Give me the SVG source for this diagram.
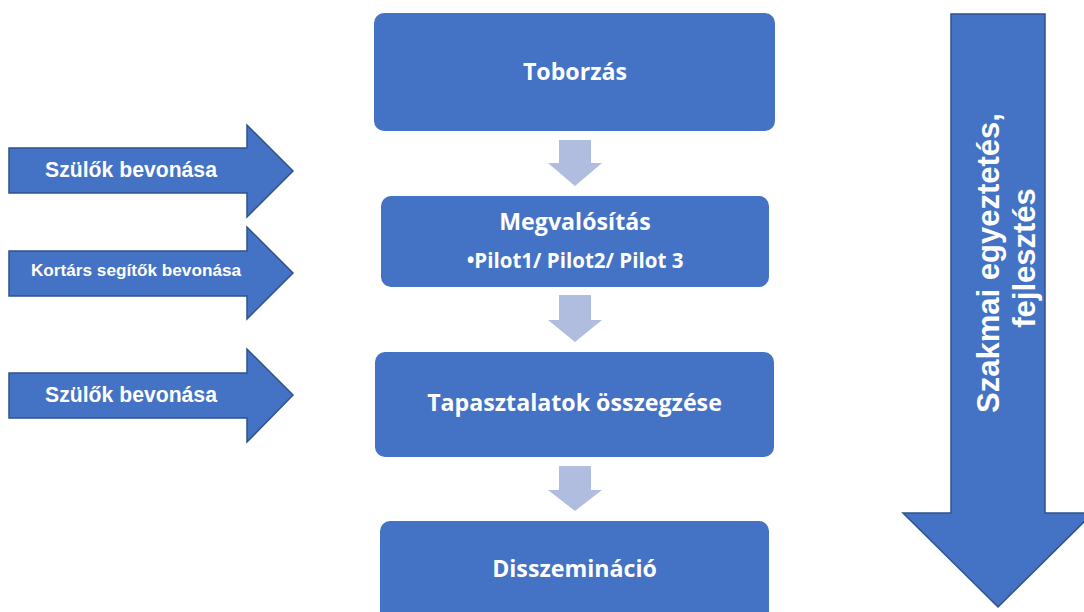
<svg xmlns="http://www.w3.org/2000/svg" width="1084" height="612" viewBox="0 0 1084 612">
<style>
.bigarrow{fill:#4472C4;stroke:#2F528F;stroke-width:1.5}
.box{fill:#4472C4}
.flow{fill:#B0BDDF}
.at{font-family:"Liberation Sans",Arial,sans-serif;font-weight:bold;fill:#fff;text-anchor:middle}
.bt{font-family:"Open Sans","Noto Sans",sans-serif;font-weight:bold;fill:#fff;text-anchor:middle}
</style>
<rect width="1084" height="612" fill="#fff"/>
<g id="connectors">
<polygon class="flow" points="559,140 591,140 591,163 602,163 575,186 548,163 559,163"/>
<polygon class="flow" points="559,295 591,295 591,320 602,320 575,342 548,320 559,320"/>
<polygon class="flow" points="559,466 591,466 591,490 602,490 575,511 548,490 559,490"/>
</g>
<g id="szulok1">
<polygon class="bigarrow" points="9,148 247,148 247,125 293,171 247,217 247,193 9,193"/>
<text class="at" x="131" y="177" font-size="21.2">Szülők bevonása</text>
</g>
<g id="kortars">
<polygon class="bigarrow" points="9,251 247,251 247,227 293,273 247,319 247,296 9,296"/>
<text class="at" x="136" y="276" font-size="17.2">Kortárs segítők bevonása</text>
</g>
<g id="szulok2">
<polygon class="bigarrow" points="9,373 247,373 247,349 293,395 247,442 247,418 9,418"/>
<text class="at" x="131" y="402" font-size="21.2">Szülők bevonása</text>
</g>
<g id="toborzas">
<rect class="box" x="374" y="13" width="401" height="118" rx="10"/>
<text class="bt" x="575" y="80" font-size="23.2">Toborzás</text>
</g>
<g id="megvalositas">
<rect class="box" x="381" y="196" width="388" height="91" rx="10"/>
<text class="bt" x="575" y="230" font-size="23.2">Megvalósítás</text>
<text class="bt" x="575" y="268" font-size="20.5">•Pilot1/ Pilot2/ Pilot 3</text>
</g>
<g id="tapasztalatok">
<rect class="box" x="375" y="352" width="399" height="105" rx="10"/>
<text class="bt" x="574.5" y="411" font-size="23.2">Tapasztalatok összegzése</text>
</g>
<g id="disszeminacio">
<rect class="box" x="380" y="521" width="389" height="110" rx="10"/>
<text class="bt" x="574.5" y="577" font-size="23.2">Disszemináció</text>
</g>
<g id="szakmai">
<polygon class="bigarrow" points="951,14 1045,14 1045,513 1093,513 998,607 903,513 951,513"/>
<text class="at" font-size="31" transform="translate(999,263) rotate(-90)">Szakmai egyeztetés,</text>
<text class="at" font-size="31" transform="translate(1035,258) rotate(-90)">fejlesztés</text>
</g>
</svg>
